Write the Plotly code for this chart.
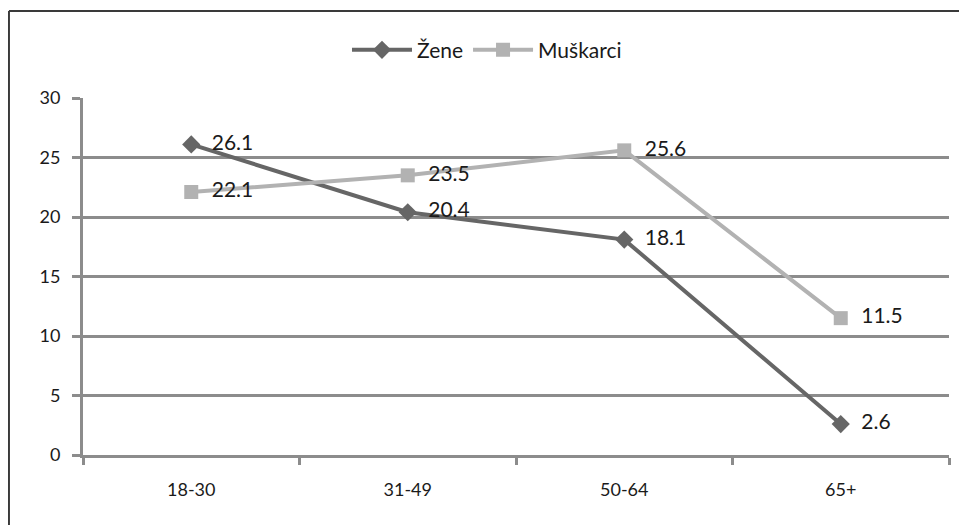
import plotly.graph_objects as go

# data
age_groups = ['18-30', '31-49', '50-64', '65+']
zene = [26.1, 20.4, 18.1, 2.6]
muskarci = [22.1, 23.5, 25.6, 11.5]

DARK = '#666666'
LIGHT = '#b2b2b2'
GRID = '#8c8c8c'
FONT = 'Lato, Open Sans, sans-serif'

fig = go.Figure()
fig.add_trace(go.Scatter(
    x=age_groups, y=zene, name='Žene',
    mode='lines+markers+text',
    text=[f'  {v:.1f}' for v in zene], textposition='middle right',
    textfont=dict(size=21, color='#1a1a1a'),
    line=dict(color=DARK, width=4),
    marker=dict(symbol='diamond', size=14, color=DARK),
    cliponaxis=False,
))
fig.add_trace(go.Scatter(
    x=age_groups, y=muskarci, name='Muškarci',
    mode='lines+markers+text',
    text=[f'  {v:.1f}' for v in muskarci], textposition='middle right',
    textfont=dict(size=21, color='#1a1a1a'),
    line=dict(color=LIGHT, width=4),
    marker=dict(symbol='square', size=14, color=LIGHT),
    cliponaxis=False,
))

# chart frame: left and top border as in the reference
fig.add_shape(type='line', xref='paper', yref='paper',
              x0=-0.0855, x1=-0.0855, y0=-0.3, y1=1.2437,
              line=dict(color='#3a3a3a', width=2))
fig.add_shape(type='line', xref='paper', yref='paper',
              x0=-0.0855, x1=1.05, y0=1.2437, y1=1.2437,
              line=dict(color='#3a3a3a', width=2))

fig.update_xaxes(
    type='category', range=[-0.5, 3.5],
    showgrid=False, showline=True, linecolor=GRID, linewidth=3,
    ticks='outside', tickson='boundaries', ticklen=7, tickwidth=3, tickcolor=GRID,
    tickfont=dict(size=18, color='#1a1a1a', family=FONT),
    ticklabelstandoff=16,
)
fig.update_yaxes(
    range=[0, 30], dtick=5,
    showgrid=True, gridcolor=GRID, gridwidth=2.5,
    showline=True, linecolor=GRID, linewidth=3,
    ticks='outside', ticklen=8, tickwidth=3, tickcolor=GRID,
    tickfont=dict(size=18, color='#1a1a1a', family=FONT),
    ticklabelstandoff=8,
    zeroline=False,
)
fig.update_layout(
    width=967, height=525,
    template=None,
    paper_bgcolor='white', plot_bgcolor='white',
    font=dict(family=FONT, color='#1a1a1a'),
    margin=dict(l=75, r=26, t=90, b=78),
    showlegend=True,
    legend=dict(orientation='h', x=0.4665, xanchor='center', y=1.134, yanchor='middle',
                font=dict(size=21), itemwidth=60, bgcolor='rgba(0,0,0,0)'),
)

fig.write_html('out.html')
